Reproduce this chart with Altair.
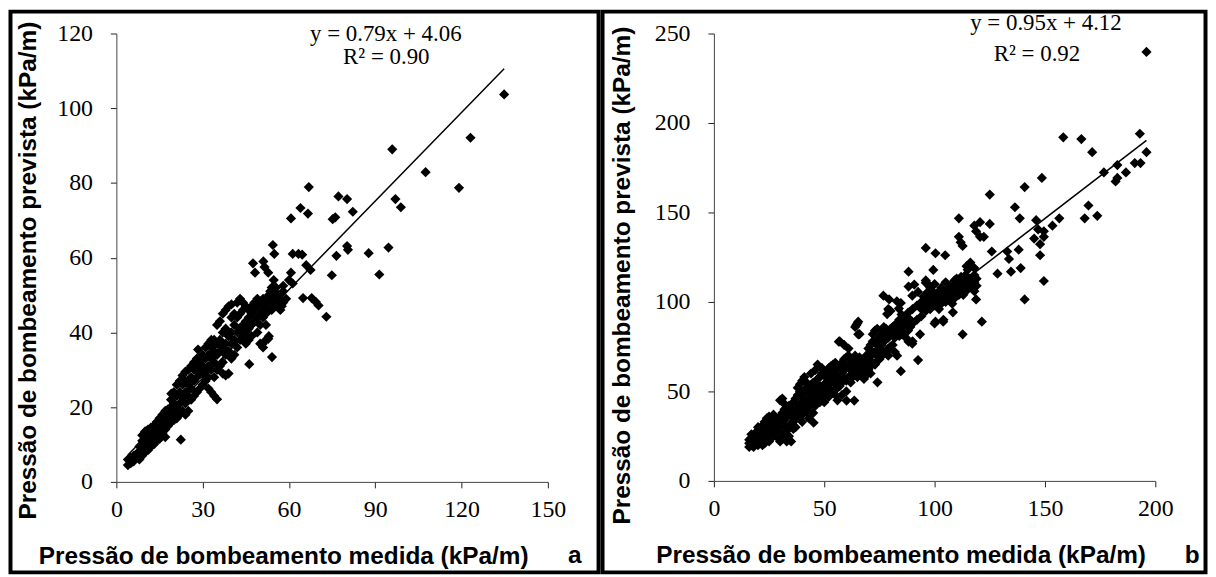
import altair as alt
import pandas as pd

# ---------------- Panel a data (medida, prevista) ----------------
a_cluster = [
    (4, 4.5), (4, 6), (5, 5), (5, 6.5), (6, 5.5), (6, 7), (6, 6), (7, 6.5), (7, 7.5),
    (8, 6), (8, 8), (8, 9.5), (9, 7), (9, 9), (9, 11), (9, 12.5),
    (10, 8), (10, 10), (10, 12), (10, 13.5), (11, 8.5), (11, 11), (11, 13), (11, 14),
    (12, 9.5), (12, 12), (12, 14.5), (12, 10.5), (13, 10), (13, 12.5), (13, 15), (13, 13.5),
    (14, 11), (14, 13), (14, 16), (14, 14.5), (15, 12), (15, 14.5), (15, 17), (15, 11.5),
    (16, 13), (16, 15.5), (16, 18), (16, 16), (17, 14), (17, 16.5), (17, 19), (17, 12),
    (18, 15), (18, 17), (18, 19.5), (18, 16.5), (19, 16), (19, 18), (19, 20), (19, 22),
    (20, 16.5), (20, 19), (20, 21), (20, 24), (21, 17), (21, 20), (21, 23), (21, 26),
    (22, 18), (22, 21), (22, 24), (22, 27), (23, 19), (23, 22.5), (23, 26), (23, 28.5),
    (24, 18), (24, 24), (24, 27), (24, 29.5), (24, 21), (25, 19), (25, 23), (25, 26), (25, 30),
    (26, 22), (26, 25), (26, 28), (26, 31), (27, 23), (27, 27), (27, 30), (27, 32),
    (28, 24), (28, 28), (28, 31), (28, 33), (29, 25), (29, 29), (29, 32), (29, 30),
    (30, 26), (30, 29), (30, 31), (30, 34), (31, 27), (31, 30), (31, 33), (31, 36),
    (32, 28), (32, 31), (32, 34), (32, 37), (32, 25), (33, 24), (33, 30), (33, 33), (33, 36), (33, 38),
    (34, 23), (34, 28), (34, 32), (34, 35), (34, 38), (35, 30), (35, 34), (35, 37), (35, 42),
    (36, 31), (36, 35), (36, 38), (36, 43), (37, 32), (37, 36), (37, 40), (37, 45), (37, 29),
    (38, 34), (38, 37), (38, 41), (38, 46), (38, 28.5), (39, 29), (39, 35), (39, 39), (39, 47),
    (40, 33), (40, 37), (40, 40), (40, 44), (40, 47.5), (41, 34), (41, 38), (41, 42), (41, 45),
    (42, 36), (42, 40), (42, 44), (42, 48), (43, 38), (43, 41), (43, 45), (43, 49),
    (44, 39), (44, 42), (44, 46), (44, 48), (45, 40), (45, 43), (45, 47), (45, 37),
    (46, 41), (46, 44), (46, 46), (46, 38), (47, 42), (47, 45), (47, 47), (47, 39),
    (48, 43), (48, 46), (48, 48), (49, 44), (49, 47), (49, 49), (49, 40),
    (50, 42), (50, 45), (50, 48), (50, 37), (51, 44), (51, 46), (51, 49), (51, 36),
    (52, 45), (52, 47), (52, 38), (52, 42), (53, 46), (53, 48), (53, 50), (53, 39),
    (54, 46), (54, 49), (54, 52), (54, 50), (55, 47), (55, 49), (55, 51),
    (56, 47), (56, 50), (56, 48), (57, 46), (57, 49), (58, 48), (58, 51),
]
a_outliers = [
    (134.8, 103.7), (123.1, 92.1), (95.9, 89.0), (107.5, 82.9), (119.1, 78.7),
    (97.0, 75.7), (98.9, 73.5), (94.6, 62.7), (87.7, 61.2), (91.4, 55.5),
    (66.9, 78.9), (77.2, 76.4), (80.2, 75.7), (82.2, 72.3), (75.2, 70.3), (76.1, 70.8),
    (60.7, 70.5), (64.0, 73.3), (66.6, 71.8), (76.5, 60.5), (80.2, 63.1), (80.5, 62.1),
    (74.9, 55.3), (73.0, 44.2), (69.3, 48.2), (70.3, 47.2), (67.9, 49.2), (64.9, 49.2),
    (67.5, 56.7), (66.0, 58.0), (61.3, 61.0), (63.3, 61.0), (64.6, 60.8), (60.7, 56.0),
    (61.3, 53.1), (54.4, 63.4), (54.9, 61.0), (47.5, 58.5), (48.2, 56.0), (51.1, 59.0),
    (51.5, 57.5), (52.8, 56.0), (54.7, 54.0), (54.1, 33.4), (46.2, 31.5), (50.8, 36.9),
    (52.8, 38.3), (22.4, 11.3), (19.1, 23.6), (28.4, 35.4), (35.0, 22.1),
    (57.5, 47), (59, 49), (58, 52.5), (60, 54), (55.5, 52), (53.5, 51),
]
a_eq = ["y = 0.79x + 4.06", "R² = 0.90"]
a_fit = (0.79, 4.06)

# ---------------- Panel b data (medida, prevista) ----------------
b_cluster = [
    (16, 19), (16, 21), (16, 23), (17, 20), (17, 24), (17, 26), (18, 19), (18, 22), (18, 25),
    (19, 21), (19, 27), (19, 23), (20, 20), (20, 24), (20, 28), (20, 30),
    (21, 22), (21, 26), (21, 29), (22, 23), (22, 27), (22, 31), (22, 20),
    (23, 21), (23, 25), (23, 33), (24, 24), (24, 29), (24, 35), (25, 22), (25, 27), (25, 32), (25, 36),
    (26, 26), (26, 30), (26, 34), (27, 25), (27, 29), (27, 37), (28, 27), (28, 31), (28, 35),
    (29, 28), (29, 33), (29, 24), (30, 22), (30, 30), (30, 36), (30, 45),
    (31, 25), (31, 32), (31, 38), (31, 46), (32, 27), (32, 34), (32, 40), (32, 43),
    (33, 28), (33, 36), (33, 30), (33, 22), (34, 30), (34, 38), (34, 42), (34, 25),
    (35, 32), (35, 36), (35, 40), (35, 22), (36, 33), (36, 37), (36, 44), (36, 29),
    (37, 35), (37, 39), (37, 46), (37, 30), (38, 36), (38, 41), (38, 48), (38, 52),
    (39, 38), (39, 43), (39, 50), (39, 54), (40, 37), (40, 42), (40, 47), (40, 56), (40, 33),
    (41, 40), (41, 45), (41, 50), (41, 58), (42, 39), (42, 44), (42, 52), (42, 55),
    (43, 41), (43, 46), (43, 49), (43, 35), (44, 43), (44, 48), (44, 53), (44, 60),
    (45, 44), (45, 50), (45, 55), (45, 38), (46, 42), (46, 47), (46, 52), (46, 62),
    (47, 45), (47, 50), (47, 57), (47, 65), (48, 47), (48, 53), (48, 58), (48, 44),
    (49, 46), (49, 51), (49, 60), (49, 63), (50, 48), (50, 54), (50, 59), (50, 44),
    (51, 50), (51, 55), (51, 61), (52, 47), (52, 52), (52, 57), (52, 63),
    (53, 49), (53, 55), (53, 60), (53, 64), (54, 50), (54, 56), (54, 62), (54, 65),
    (55, 48), (55, 54), (55, 59), (55, 66), (56, 52), (56, 58), (56, 63), (56, 45),
    (57, 53), (57, 57), (57, 64), (57, 78), (58, 55), (58, 60), (58, 66), (58, 48),
    (59, 57), (59, 62), (59, 68), (59, 76), (60, 56), (60, 63), (60, 69), (60, 50),
    (61, 58), (61, 64), (61, 70), (61, 74), (62, 57), (62, 62), (62, 66), (62, 55),
    (63, 59), (63, 64), (63, 68), (64, 60), (64, 66), (64, 70), (64, 86),
    (65, 58), (65, 63), (65, 67), (65, 88), (66, 61), (66, 65), (66, 69), (66, 82),
    (67, 60), (67, 64), (68, 57), (68, 62), (68, 67), (69, 59), (69, 64), (69, 70),
    (70, 62), (70, 68), (70, 74), (71, 64), (71, 70), (71, 76), (71, 60),
    (72, 66), (72, 72), (72, 78), (72, 82), (73, 65), (73, 71), (73, 77), (73, 84),
    (74, 67), (74, 73), (74, 79), (74, 85), (75, 68), (75, 74), (75, 80), (75, 70),
    (76, 70), (76, 76), (76, 82), (76, 72), (77, 71), (77, 78), (77, 83), (77, 86),
    (78, 72), (78, 79), (78, 85), (79, 74), (79, 80), (79, 96), (79, 70),
    (80, 75), (80, 82), (80, 95), (80, 85), (81, 76), (81, 84), (81, 86),
    (82, 72), (82, 80), (82, 87), (83, 84), (83, 88), (83, 70), (84, 86), (84, 90), (84, 81),
    (85, 82), (85, 88), (85, 93), (86, 84), (86, 90), (87, 86), (87, 92), (87, 80),
    (88, 88), (88, 94), (88, 84), (89, 86), (89, 90), (90, 88), (90, 96), (90, 78),
    (92, 90), (92, 98), (94, 92), (94, 100), (94, 96), (95, 97), (95, 103),
    (96, 95), (96, 101), (96, 112), (97, 98), (97, 104), (97, 110), (98, 96), (98, 102), (98, 108),
    (99, 100), (99, 106), (100, 98), (100, 104), (100, 110), (100, 88), (101, 102), (101, 100),
    (102, 101), (102, 106), (102, 96), (103, 99), (103, 104), (103, 108),
    (104, 102), (104, 106), (104, 90), (105, 100), (105, 104), (105, 111), (106, 103), (106, 107),
    (107, 101), (107, 105), (107, 109), (108, 104), (108, 108), (108, 99),
    (109, 102), (109, 106), (109, 112), (110, 105), (110, 109), (110, 113), (111, 104), (111, 108),
    (112, 106), (112, 110), (112, 114), (113, 108), (113, 112), (113, 104), (114, 109), (114, 115),
    (115, 107), (115, 111), (115, 118), (116, 110), (116, 113), (117, 108), (117, 112),
    (118, 111), (118, 115), (118, 106), (119, 109), (119, 113),
]
b_outliers = [
    (196, 239.7), (193, 194), (196, 183.7), (193.3, 177.6), (190.7, 177.6),
    (186.7, 172.4), (182.8, 176.5), (182, 167.3), (182.8, 169.3), (176.7, 172.4),
    (171.4, 183.7), (166.5, 191), (158.3, 192), (169.7, 153.9), (168, 146.7),
    (173.7, 148.1), (156.5, 146.7), (153.4, 142.6), (148.6, 169.3), (140.8, 164.2),
    (136.4, 152.9), (138.6, 146.7), (146, 145.7), (146.9, 140.5), (145.1, 135.4),
    (147.8, 132.3), (149.5, 136.4), (149.5, 139.5), (147.8, 126.1), (149.5, 111.7),
    (140.8, 101.4), (139, 118.9), (134.6, 116.9), (133.7, 124), (132.9, 128.2),
    (138.1, 129.2), (128.5, 115.8), (125, 160), (125, 143.6), (125.9, 128.2),
    (118, 142.6), (118.8, 139.5), (120.6, 136.4), (120.6, 144.6), (122.3, 136.4),
    (111, 146.7), (111, 136.4), (112.7, 131.3), (111.8, 133.3), (114.5, 120),
    (116.2, 122), (118, 118.9), (118.8, 101.4), (121.4, 89), (112.7, 81.9),
    (108.3, 94.2), (104.8, 126.1), (100.4, 127.2), (96, 130.2), (99.4, 117.9),
    (96, 110.7), (96.9, 105.6), (98.7, 103.5), (88.2, 116.9), (88.2, 108.6),
    (89.9, 103.5), (92.5, 105.6), (90.8, 109.7), (88.2, 77.8), (89.9, 76.7),
    (92.5, 67.5), (93.4, 81.9), (84.7, 61.3), (76.8, 103.5), (79.4, 101.4),
    (82.9, 100.4), (84.7, 99.4), (83.8, 96.3), (79.4, 95.3), (78.5, 93.2),
    (100.4, 89), (103.9, 89), (74.1, 55.1), (60.1, 44.9), (63.6, 44.9),
    (45.2, 32.5), (56.6, 77.8), (64.5, 87), (65.4, 89), (65.4, 81.9),
]
b_eq = ["y = 0.95x + 4.12", "R² = 0.92"]
b_fit = (0.95, 4.12)

x_title = "Pressão de bombeamento medida (kPa/m)"
y_title = "Pressão de bombeamento prevista (kPa/m)"

SERIF = "Liberation Serif"
SANS = "Liberation Sans"


def panel(points, fit, eq, eq_pos, letter, letter_pos, xdom, xticks, ydom, yticks,
          width, height, frame, xtitle_x, ytitle_x, ytitle_y):
    df = pd.DataFrame(points, columns=["medida", "prevista"])
    xenc = alt.X(
        "medida:Q",
        scale=alt.Scale(domain=xdom, nice=False, zero=False),
        axis=alt.Axis(
            values=xticks, grid=False, domainColor="#444", domainWidth=1,
            tickColor="#222", tickSize=6, labelFont=SERIF, labelFontSize=24,
            labelColor="black", labelPadding=10, labelFlush=False, labelOverlap=False,
            title=x_title, titleFont=SANS, titleFontSize=24.5, titleFontWeight="bold",
            titleColor="black", titleX=xtitle_x, titleY=82, titleAlign="left",
            titleBaseline="alphabetic",
        ),
    )
    yenc = alt.Y(
        "prevista:Q",
        scale=alt.Scale(domain=ydom, nice=False, zero=False),
        axis=alt.Axis(
            values=yticks, grid=False, domainColor="#444", domainWidth=1,
            tickColor="#222", tickSize=6, labelFont=SERIF, labelFontSize=24,
            labelColor="black", labelPadding=18, labelFlush=False, labelOverlap=False,
            title=y_title, titleFont=SANS, titleFontSize=24.5, titleFontWeight="bold",
            titleColor="black", titleX=ytitle_x, titleY=ytitle_y, titleAngle=270,
            titleAlign="center", titleBaseline="alphabetic",
        ),
    )
    pts = alt.Chart(df).mark_point(
        shape="diamond", filled=True, size=105, color="black", opacity=1
    ).encode(x=xenc, y=yenc)

    xs = [df["medida"].min(), df["medida"].max()]
    line_df = pd.DataFrame({"medida": xs, "prevista": [fit[0] * v + fit[1] for v in xs]})
    line = alt.Chart(line_df).mark_line(color="black", strokeWidth=1.5).encode(x=xenc, y=yenc)

    layers = [pts, line]
    for txt, (tx, ty) in zip(eq, eq_pos):
        layers.append(
            alt.Chart(pd.DataFrame({"t": [txt]})).mark_text(
                font=SERIF, fontSize=23, color="black", align="center", baseline="alphabetic"
            ).encode(text="t:N", x=alt.value(tx), y=alt.value(ty))
        )
    layers.append(
        alt.Chart(pd.DataFrame({"t": [letter]})).mark_text(
            font=SANS, fontSize=24.5, fontWeight="bold", color="black",
            align="center", baseline="alphabetic"
        ).encode(text="t:N", x=alt.value(letter_pos[0]), y=alt.value(letter_pos[1]))
    )
    fx, fx2, fy, fy2 = frame
    layers.append(
        alt.Chart(pd.DataFrame({"k": [0]})).mark_rect(
            fillOpacity=0, stroke="black", strokeWidth=4
        ).encode(x=alt.value(fx), x2=alt.value(fx2), y=alt.value(fy), y2=alt.value(fy2))
    )
    return alt.layer(*layers).properties(width=width, height=height)


left = panel(
    a_cluster + a_outliers, a_fit, a_eq, [(271, 8), (271.5, 31)], "a", (461, 533),
    [0, 150], [0, 30, 60, 90, 120, 150], [0, 120], [0, 20, 40, 60, 80, 100, 120],
    434, 451, (-106.5, 485, -22, 542), -78.5, -81.5, 238,
)
right = panel(
    b_cluster + b_outliers, b_fit, b_eq, [(334, -4), (325, 28)], "b", (481, 533),
    [0, 200], [0, 50, 100, 150, 200], [0, 250], [0, 50, 100, 150, 200, 250],
    444, 450, (-112, 494.5, -22, 542), -58.5, -85, 243,
)

chart = alt.hconcat(left, right, spacing=0).properties(
    padding={"left": 0, "top": 0, "right": 0, "bottom": 0}, background="white"
).configure_view(strokeWidth=0)

chart.save("out.html", embed_options={"renderer": "svg", "actions": False})
